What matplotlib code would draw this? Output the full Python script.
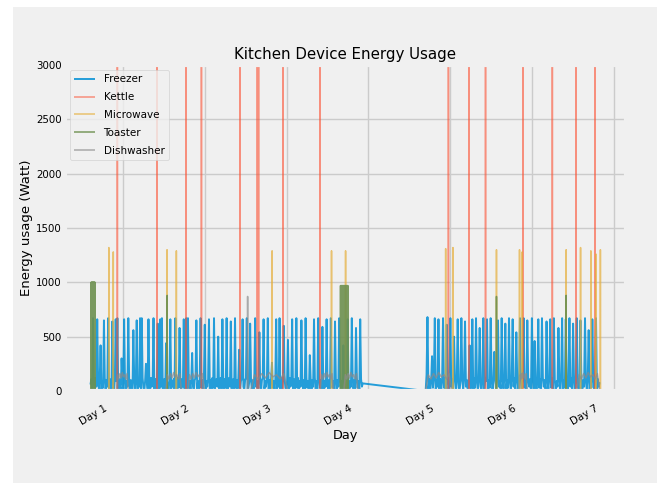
"""
Kitchen device energy usage over one week (fivethirtyeight look).
"""

import numpy as np
import matplotlib.pyplot as plt
import matplotlib.transforms as mtransforms
from matplotlib.patches import Rectangle

plt.style.use('fivethirtyeight')
plt.rcParams.update({
    "font.family": "DejaVu Sans",
    "font.size": 7.5,
    "lines.linewidth": 1.1,
    "legend.fontsize": 7.5,
})

# ---------- data (days since start, watts) ----------
day_ticks = [1, 2, 3, 4, 5, 6, 7]
day_labels = ['Day 1', 'Day 2', 'Day 3', 'Day 4', 'Day 5', 'Day 6', 'Day 7']

# Freezer readings, two logged stretches with a gap in between
freezer_seg1_span = (0.598, 3.93)
freezer_seg1 = [
    60, 110, 10, 670, 90, 0, 120, 40, 660, 100, 20, 110, 420, 0, 90, 30, 650, 120, 10, 100, 40, 670, 0, 110, 60,
    20, 640, 100, 0, 120, 660, 90, 670, 10, 110, 50, 0, 300, 100, 20, 660, 120, 0, 90, 40, 670, 110, 10, 100, 30,
    0, 560, 120, 20, 90, 650, 0, 110, 40, 670, 10, 670, 120, 30, 0, 90, 250, 110, 20, 660, 100, 0, 120, 40, 90,
    670, 10, 110, 30, 0, 620, 100, 20, 660, 40, 670, 0, 90, 110, 10, 440, 100, 30, 0, 120, 660, 20, 90, 40, 110,
    0, 670, 100, 10, 120, 30, 580, 90, 0, 110, 40, 660, 20, 100, 670, 0, 670, 30, 90, 10, 110, 350, 40, 0, 100,
    120, 650, 20, 90, 0, 110, 670, 30, 100, 10, 120, 610, 0, 90, 40, 110, 660, 20, 100, 0, 120, 30, 670, 10, 90,
    110, 40, 500, 0, 100, 120, 20, 660, 90, 10, 110, 30, 670, 0, 100, 120, 40, 640, 10, 90, 110, 0, 670, 30, 100,
    20, 120, 380, 0, 90, 110, 660, 40, 10, 100, 120, 670, 0, 30, 90, 620, 110, 20, 100, 0, 120, 670, 40, 90, 10,
    110, 540, 30, 0, 100, 120, 660, 20, 90, 40, 110, 670, 0, 100, 10, 120, 260, 30, 90, 0, 110, 660, 20, 100, 40,
    670, 0, 120, 10, 90, 600, 110, 30, 0, 100, 470, 20, 120, 40, 90, 660, 0, 110, 10, 100, 670, 30, 120, 0, 90,
    40, 650, 110, 20, 100, 0, 670, 120, 30, 90, 10, 330, 110, 0, 100, 40, 660, 120, 20, 90, 0, 670, 110, 30, 100,
    10, 590, 120, 0, 90, 40, 660, 110, 20, 100, 0, 670, 120, 30, 90, 10, 640, 110, 0, 100, 40, 670, 120, 20, 90,
    0, 420, 110, 30, 100, 10, 660, 120, 0, 90, 40, 670, 110, 20, 100, 0, 580, 120, 30, 90, 10, 660, 110, 40, 70,
]
freezer_seg2_span = (4.70, 6.83)
freezer_seg2 = [
    0, 150, 680, 20, 110, 0, 90, 320, 30, 120, 670, 10, 100, 40, 660, 0, 110, 20, 90, 670, 30, 120, 0, 610, 100,
    10, 90, 670, 40, 110, 0, 500, 120, 20, 100, 660, 30, 0, 90, 670, 110, 10, 120, 640, 40, 100, 0, 90, 420, 20,
    110, 660, 0, 120, 30, 670, 90, 10, 100, 580, 40, 0, 110, 670, 20, 120, 90, 660, 0, 100, 30, 670, 110, 10, 90,
    360, 120, 0, 100, 650, 40, 90, 10, 670, 110, 20, 120, 620, 0, 100, 30, 670, 90, 10, 110, 660, 40, 120, 0, 540,
    100, 20, 90, 670, 110, 0, 120, 670, 30, 100, 10, 650, 90, 40, 110, 0, 670, 120, 20, 460, 100, 0, 90, 660, 30,
    110, 10, 670, 120, 40, 100, 0, 640, 90, 20, 110, 660, 30, 120, 0, 670, 100, 10, 90, 40, 580, 110, 0, 120, 670,
    20, 100, 30, 660, 90, 0, 110, 670, 40, 120, 10, 620, 100, 0, 90, 670, 30, 110, 20, 650, 120, 0, 100, 40, 670,
    90, 10, 110, 560, 0, 120, 30, 660, 100, 20, 90, 670, 0, 110, 40, 80,
]

# Kettle boils (day, peak watts)
kettle_days = [0.927, 1.41, 1.767, 1.956, 2.426, 2.640, 2.655, 2.955, 3.405,
               4.979, 5.232, 5.433, 5.890, 6.251, 6.541, 6.772]
kettle_watts = [3080, 3080, 3100, 3080, 3090, 3100, 3100, 3080, 3090,
                3100, 3080, 3090, 3080, 3100, 3090, 3080]

# Microwave uses (day, peak watts)
microwave_days = [0.822, 0.877, 1.535, 1.649, 2.821, 3.548, 3.720, 4.945, 5.034,
                  5.567, 5.849, 5.882, 6.420, 6.596, 6.722, 6.785, 6.839]
microwave_watts = [1320, 1280, 1300, 1290, 1290, 1290, 1290, 1310, 1320,
                   1300, 1300, 1280, 1300, 1320, 1290, 1260, 1300]

# Toaster: short pops plus two long sessions
toaster_days = [1.537, 5.567, 6.420]
toaster_watts = [880, 870, 880]
toaster_session_a = (0.603, 0.655)
toaster_session_a_watts = [0, 1000, 10, 1000, 0, 1000, 20, 1000, 0, 1000, 10, 1000, 0,
                           1000, 10, 1000, 0, 1000, 20, 1000, 0, 1000, 10, 1000, 0]
toaster_session_b = (3.656, 3.749)
toaster_session_b_watts = [0, 970, 10, 970, 0, 970, 20, 970, 0, 970, 10, 970, 0, 970,
                           20, 970, 0, 970, 10, 970, 0, 970, 10, 970, 0, 970, 20, 970,
                           0, 970, 10, 970, 0, 970, 20, 970, 0, 970, 10, 970, 0]

# Dishwasher: low-power runs and one heater spike
dishwasher_runs = [(0.915, 1.06), (1.52, 1.71), (1.79, 1.99), (2.56, 3.01), (3.41, 3.57),
                   (3.70, 3.87), (4.70, 5.02), (5.85, 5.94), (6.55, 6.83)]
dishwasher_run_watts = [0, 150, 110, 160, 120, 170, 130, 150, 110, 160, 0]
dishwasher_spike_day = 2.521
dishwasher_spike_watts = 870


def pulses(days, watts, half=0.0012):
    xs, ys = [], []
    for d, w in zip(days, watts):
        xs += [d - half, d, d + half]
        ys += [0, w, 0]
    return xs, ys


# ---------- build series ----------
freezer_x = np.concatenate([np.linspace(*freezer_seg1_span, len(freezer_seg1)),
                            np.linspace(*freezer_seg2_span, len(freezer_seg2))])
freezer_y = np.array(freezer_seg1 + freezer_seg2)

kettle_x, kettle_y = pulses(kettle_days, kettle_watts)
micro_x, micro_y = pulses(microwave_days, microwave_watts)

tx, ty = pulses(toaster_days, toaster_watts)
tx = list(tx) + list(np.linspace(*toaster_session_a, len(toaster_session_a_watts))) \
    + list(np.linspace(*toaster_session_b, len(toaster_session_b_watts)))
ty = list(ty) + toaster_session_a_watts + toaster_session_b_watts
order = np.argsort(tx)
toaster_x, toaster_y = np.array(tx)[order], np.array(ty)[order]

dx, dy = pulses([dishwasher_spike_day], [dishwasher_spike_watts])
for start, end in dishwasher_runs:
    dx += list(np.linspace(start, end, len(dishwasher_run_watts)))
    dy += dishwasher_run_watts
order = np.argsort(dx)
dish_x, dish_y = np.array(dx)[order], np.array(dy)[order]

# ---------- plot ----------
fig = plt.figure(figsize=(6.57, 4.83), dpi=100, facecolor='#f0f0f0')
# white strip left/top, as in the original screenshot
fig.patches.append(Rectangle((0, 0), 13 / 657, 1, transform=fig.transFigure,
                             facecolor='white', edgecolor='none', zorder=-1))
fig.patches.append(Rectangle((0, 1 - 7 / 483), 1, 7 / 483, transform=fig.transFigure,
                             facecolor='white', edgecolor='none', zorder=-1))

ax = fig.add_axes([65 / 657, 1 - 391 / 483, 561 / 657, 326 / 483])

ax.plot(freezer_x, freezer_y, alpha=0.85, linewidth=1.4, label='Freezer')
ax.plot(kettle_x, kettle_y, alpha=0.6, label='Kettle')
ax.plot(micro_x, micro_y, alpha=0.7, label='Microwave')
ax.plot(toaster_x, toaster_y, alpha=0.9, label='Toaster')
ax.plot(dish_x, dish_y, alpha=0.7, label='Dishwasher')

ax.set_ylim(0, 3000)
ax.set_yticks([0, 500, 1000, 1500, 2000, 2500, 3000])
ax.set_xticks(day_ticks)
ax.set_xticklabels(day_labels, rotation=30, ha='right')
ax.tick_params(axis='both', labelsize=7.4, pad=2.5)

# labels sit a bit left/below their ticks in the original
shift = mtransforms.ScaledTranslation(-14 / 100, -9 / 100, fig.dpi_scale_trans)
for lbl in ax.get_xticklabels():
    lbl.set_transform(lbl.get_transform() + shift)

ax.set_title('Kitchen Device Energy Usage', fontsize=10.8, pad=4.5)
ax.set_xlabel('Day', fontsize=9.3, labelpad=1)
ax.set_ylabel('Energy usage (Watt)', fontsize=9.5, labelpad=2)

ax.legend(loc='upper left', framealpha=0.8, labelspacing=0.75)

plt.savefig('out.png', dpi=100, facecolor=fig.get_facecolor())
